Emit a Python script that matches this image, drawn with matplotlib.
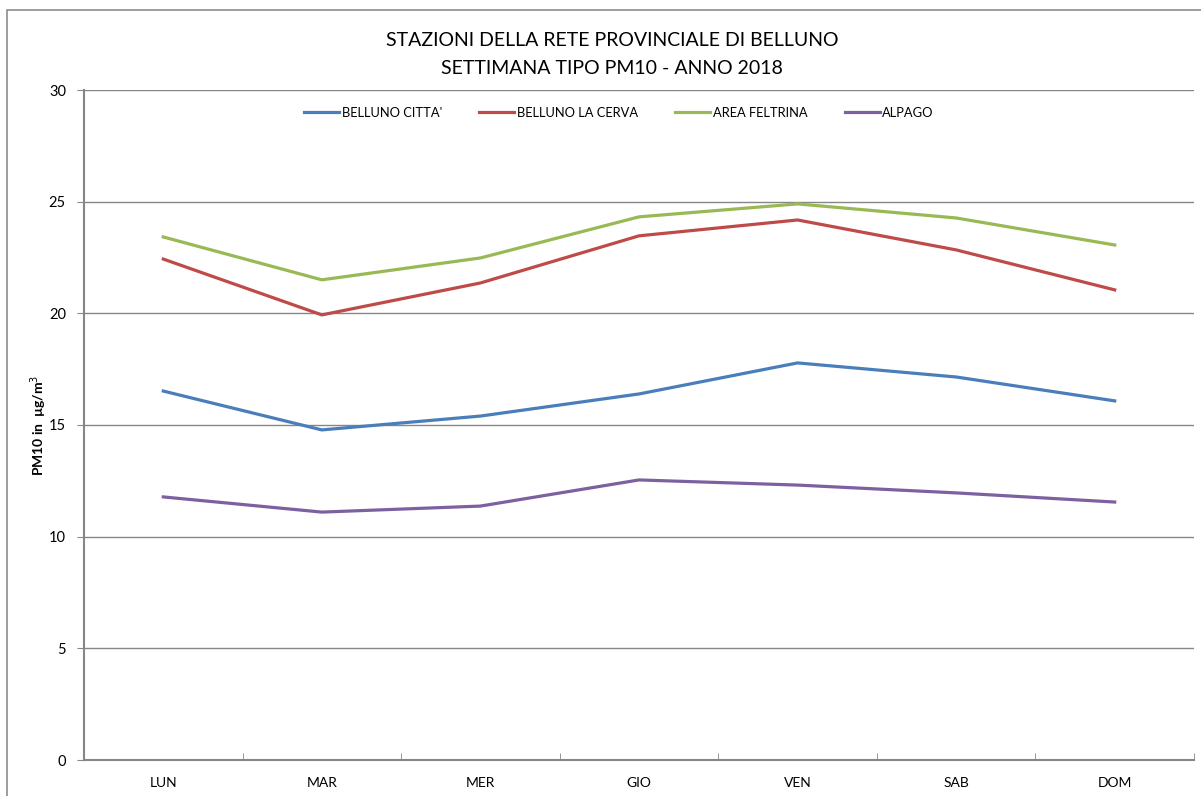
import matplotlib.pyplot as plt
from matplotlib.patches import Rectangle

plt.rcParams['font.family'] = ['Lato', 'DejaVu Sans']

days = ["LUN", "MAR", "MER", "GIO", "VEN", "SAB", "DOM"]
belluno_citta = [16.52, 14.78, 15.40, 16.39, 17.78, 17.15, 16.08]
belluno_cerva = [22.43, 19.93, 21.36, 23.47, 24.18, 22.84, 21.05]
area_feltrina = [23.42, 21.50, 22.48, 24.32, 24.90, 24.27, 23.06]
alpago = [11.78, 11.10, 11.37, 12.54, 12.31, 11.96, 11.55]

series = [
    ("BELLUNO CITTA'", belluno_citta, "#4A7EBB"),
    ("BELLUNO LA CERVA", belluno_cerva, "#BE4B48"),
    ("AREA FELTRINA", area_feltrina, "#98B954"),
    ("ALPAGO", alpago, "#7D60A0"),
]

fig = plt.figure(figsize=(12.01, 7.96), dpi=100)
ax = fig.add_axes([84 / 1201, 1 - 760 / 796, 1110 / 1201, 670 / 796])

# outer chart border
fig.patches.append(Rectangle((7 / 1201, -0.1), 1.2, 1 - 10 / 796 + 0.1,
                             transform=fig.transFigure, fill=False,
                             edgecolor="#8c8c8c", lw=1.2))

x = range(len(days))
for name, vals, col in series:
    ax.plot(x, vals, color=col, lw=2.3, label=name, solid_joinstyle="round")

ax.set_xlim(-0.5, len(days) - 0.5)
ax.set_ylim(0, 30)
ax.set_yticks(range(0, 31, 5))
ax.set_xticks(list(x))
ax.set_xticklabels(days)
ax.set_xticks([i + 0.5 for i in range(-1, len(days))], minor=True)
ax.tick_params(axis="x", which="major", length=0, labelsize=10, pad=12)
ax.tick_params(axis="x", which="minor", length=5, color="#868686", direction="in")
ax.tick_params(axis="y", length=5, color="#868686", labelsize=10.5, pad=8)
ax.grid(axis="y", color="#868686", lw=1)
ax.set_axisbelow(True)

for side in ["top", "right"]:
    ax.spines[side].set_visible(False)
for side in ["left", "bottom"]:
    ax.spines[side].set_color("#868686")
    ax.spines[side].set_linewidth(1.5)

ax.set_ylabel("PM10 in  µg/m$^3$", fontsize=10, fontweight="bold")
ax.yaxis.label.set_va("center")
ax.yaxis.set_label_coords(-0.0405, 0.5)

fig.text(612 / 1201, 1 - 40 / 796, "STAZIONI DELLA RETE PROVINCIALE DI BELLUNO",
         ha="center", va="center", fontsize=14)
fig.text(612 / 1201, 1 - 68 / 796, "SETTIMANA TIPO PM10 - ANNO 2018",
         ha="center", va="center", fontsize=14)

ax.legend(loc="upper center", bbox_to_anchor=(0.482, 0.9925), ncol=4, frameon=False,
          fontsize=9.3, handlelength=2.7, handletextpad=0.2, columnspacing=2.9)

fig.savefig("out.png", dpi=100)
